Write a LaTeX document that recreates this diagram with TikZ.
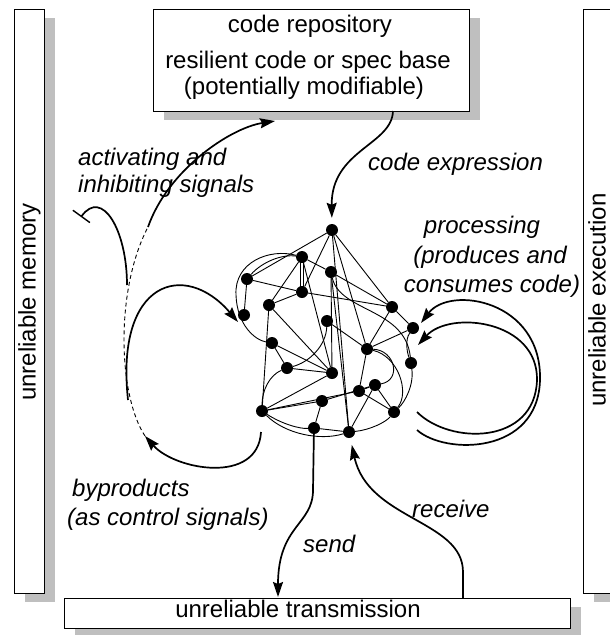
\documentclass[tikz,border=0pt]{standalone}
\usepackage{fontspec}
\setmainfont{Liberation Sans}
\usetikzlibrary{arrows.meta,shadows}
\begin{document}
\begin{tikzpicture}[x=1pt,y=-1pt,
  every node/.style={font=\fontsize{24}{28}\selectfont},
  box/.style={draw=black, fill=white, line width=1pt, inner sep=0pt,
    general shadow={fill=black!25, shadow xshift=11pt, shadow yshift=-9pt}},
  txt/.style={anchor=base, inner sep=0pt},
  lbl/.style={anchor=base west, inner sep=0pt, font=\fontsize{24}{28}\selectfont\itshape},
  lblc/.style={anchor=base, inner sep=0pt, font=\fontsize{24}{28}\selectfont\itshape},
  dot/.style={circle, fill=black, inner sep=0pt, minimum size=12pt},
  edge/.style={line width=0.9pt},
  flow/.style={line width=1.7pt, -{Stealth[length=15pt,width=10pt,inset=2pt]}},
  inhib/.style={line width=1.7pt, -{Bar[width=21pt,line width=1.4pt]}},
  dashes/.style={line width=0.9pt, dash pattern=on 4pt off 3pt},
]
\useasboundingbox (0,0) rectangle (610,635);
\clip (0,0) rectangle (610,635);

% boxes
\node[box, minimum width=316pt, minimum height=102pt] (repo) at (311,60) {};
\node[box, minimum width=30pt, minimum height=584pt] (mem) at (29,301) {};
\node[box, minimum width=31pt, minimum height=584pt] (exe) at (598.5,301) {};
\node[box, minimum width=506pt, minimum height=30pt] (trans) at (317,613) {};

\node[txt] (r1) at (310,32) {code repository};
\node[txt] (r2) at (308,68) {resilient code or spec base};
\node[txt] (r3) at (304,94) {(potentially modifiable)};
\node[txt, rotate=90] (meml) at (35.5,302) {unreliable memory};
\node[txt, rotate=90] (exel) at (605.5,300) {unreliable execution};
\node[txt] (transl) at (298,617) {unreliable transmission};

% labels
\node[lbl] (la1) at (78,165) {activating and};
\node[lbl] (la2) at (78,192) {inhibiting signals};
\node[lbl] (lce) at (368,170) {code expression};
\node[lblc] (lp1) at (482,233) {processing};
\node[lblc] (lp2) at (490,263) {(produces and};
\node[lblc] (lp3) at (492,292) {consumes code)};
\node[lbl] (lb1) at (72,496) {byproducts};
\node[lbl] (lb2) at (67,525) {(as control signals)};
\node[lbl] (lsend) at (303,552) {send};
\node[lbl] (lrec) at (412,517) {receive};

% network nodes
\node[dot] (n1) at (332,230) {};
\node[dot] (n2) at (302,257) {};
\node[dot] (n3) at (331,272) {};
\node[dot] (n4) at (247,279) {};
\node[dot] (n5) at (302,292) {};
\node[dot] (n6) at (269,305) {};
\node[dot] (n7) at (244,315) {};
\node[dot] (n8) at (392,307) {};
\node[dot] (n9) at (413,328) {};
\node[dot] (n10) at (327,321) {};
\node[dot] (n11) at (272,343) {};
\node[dot] (n12) at (367,349) {};
\node[dot] (n13) at (411,363) {};
\node[dot] (n14) at (287,368) {};
\node[dot] (n15) at (332,373) {};
\node[dot] (n16) at (375,385) {};
\node[dot] (n17) at (359,391) {};
\node[dot] (n18) at (322,401) {};
\node[dot] (n19) at (262,411) {};
\node[dot] (n20) at (394,412) {};
\node[dot] (n21) at (314,428) {};
\node[dot] (n22) at (349,432) {};

% network edges
\begin{scope}[edge]
\draw (n1) -- (n4);
\draw (n1) -- (n5);
\draw (n1) -- (n8);
\draw (n1) -- (n12);
\draw (n1) -- (n22);
\draw (n2) -- (n3);
\draw (n3) -- (n8);
\draw ([xshift=-1.3pt]n2.center) -- ([xshift=-1.3pt]n5.center);
\draw ([xshift=1.3pt]n2.center) -- ([xshift=1.3pt]n5.center);
\draw (n2) -- (n6);
\draw (n2) -- (n15);
\draw (n4) -- (n5);
\draw (n4) -- (n7);
\draw (n5) -- (n8);
\draw (n5) -- (n6);
\draw (n6) -- (n19);
\draw (n6) -- (n15);
\draw (n3) -- (n15);
\draw (n3) -- (n22);
\draw (n10) -- (n12);
\draw (n11) -- (n14);
\draw (n11) -- (n15);
\draw (n14) -- (n15);
\draw (n19) -- (n15);
\draw (n19) -- (n18);
\draw (n19) -- (n17);
\draw (n18) -- (n21);
\draw (n18) -- (n16);
\draw (n12) -- (n9);
\draw (n12) -- (n8);
\draw (n12) -- (n17);
\draw (n8) -- (n9);
\draw (n16) -- (n17);
\draw (n16) -- (n20);
\draw (n17) -- (n20);
\draw (n16) -- (n22);
\draw (n21) -- (n22);
% curved edges
\draw (n4) .. controls (262,262) and (282,254) .. (n2);
\draw (n2) .. controls (270,248) and (234,262) .. (236,295) .. controls (237,325) and (255,340) .. (n11);
\draw (n10) .. controls (326,345) and (310,362) .. (n14);
\draw (n14) .. controls (270,375) and (262,390) .. (n19);
\draw (n12) .. controls (395,350) and (402,380) .. (n16);
\draw (n12) .. controls (398,356) and (410,392) .. (n20);
\draw (n9) .. controls (405,340) and (407,352) .. (n13);
\draw (n3) .. controls (340,312) and (405,308) .. (n13);
\draw (n13) .. controls (414,385) and (405,402) .. (n20);
\draw (n19) .. controls (282,424) and (300,429) .. (n21);
\draw (n19) .. controls (285,434) and (320,441) .. (n22);
\draw (n22) .. controls (370,430) and (386,422) .. (n20);
\end{scope}

% free ends
\coordinate (ceS) at (393,111);
\coordinate (actS) at (148,227);
\coordinate (actE) at (275,121);
\coordinate (bpS) at (261,432);
\coordinate (bpE) at (145,436);
\coordinate (inhS) at (127,285);
\coordinate (inhE) at (81,217);
\coordinate (loopS) at (128,400);
\coordinate (loopE) at (238,322);
\coordinate (sendM) at (313,490);
\coordinate (sendE) at (278,597);
\coordinate (recS) at (463,598);
\coordinate (recM) at (463,572);
\coordinate (pAS) at (417,412);
\coordinate (pAM) at (537,380);
\coordinate (pAE) at (418,345);
\coordinate (pBS) at (417,430);
\coordinate (pBM) at (540,380);
\coordinate (pBE) at (421,323);

% arrows
\draw[flow, shorten >=6pt] (ceS) .. controls (392,145) and (331,150) .. (n1);
\draw[flow] (actS) .. controls (168,170) and (230,128) .. (actE);
\draw[dashes] (bpE) .. controls (118,395) and (115,290) .. (actS);
\draw[inhib] (inhS) .. controls (127,230) and (102,188) .. (inhE);
\draw[flow] (loopS) .. controls (115,280) and (185,260) .. (loopE);
\draw[flow] (bpS) .. controls (258,485) and (175,470) .. (bpE);
\draw[flow] (n21) -- (sendM) .. controls (313,525) and (278,525) .. (sendE);
\draw[flow, shorten >=7pt] (recS) -- (recM) .. controls (463,520) and (368,520) .. (n22);
\draw[flow] (pAS) .. controls (450,445) and (535,445) .. (pAM) .. controls (538,320) and (450,310) .. (pAE);
\draw[flow] (pBS) .. controls (445,455) and (538,455) .. (pBM) .. controls (542,300) and (450,285) .. (pBE);
\end{tikzpicture}
\end{document}
